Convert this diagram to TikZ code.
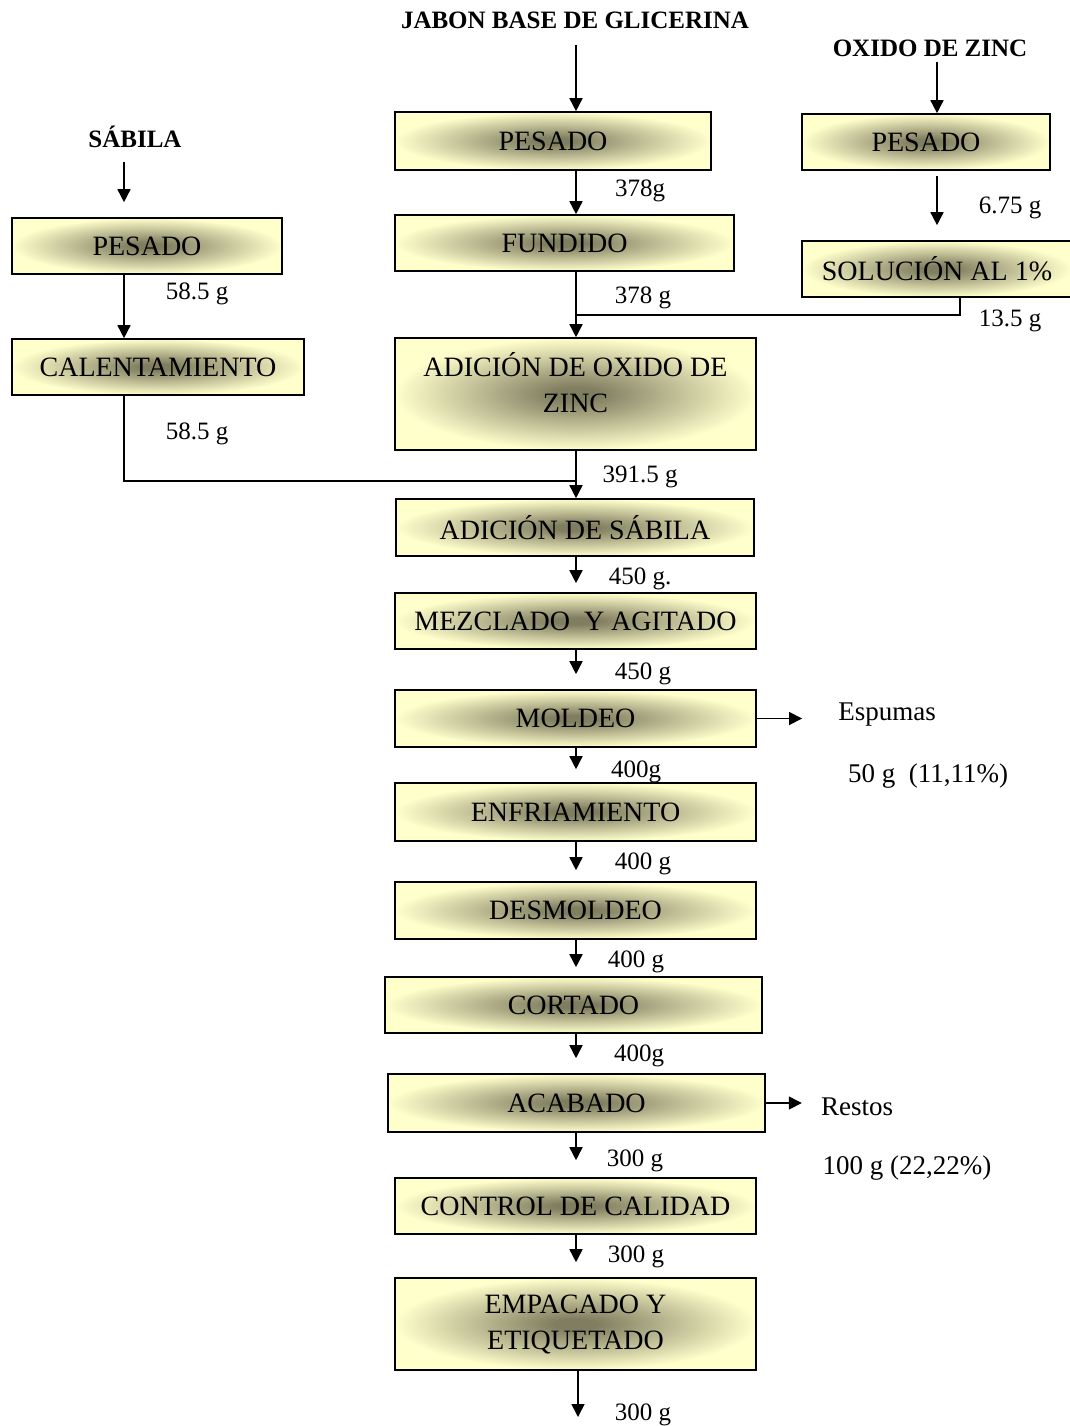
\documentclass[tikz,border=0pt]{standalone}
\usepackage{fontspec}
\setmainfont{Liberation Serif}
\usetikzlibrary{arrows.meta,positioning,calc}
\definecolor{glowlight}{RGB}{255,255,204}
\definecolor{glowdark}{RGB}{128,126,96}
\pgfdeclareradialshading{boxglow}{\pgfpoint{0bp}{0bp}}{%
  color(0bp)=(glowdark); color(3bp)=(glowdark);
  color(25bp)=(glowlight); color(50bp)=(glowlight)}

\begin{document}
\begin{tikzpicture}[x=1pt, y=-1pt,
    stepbox/.style={draw, line width=1.6pt, shading=boxglow, inner sep=0pt,
      align=center, font=\fontsize{28}{36}\selectfont},
    ttl/.style={inner sep=0pt, font=\fontsize{25}{30}\selectfont\bfseries},
    wt/.style={inner sep=0pt, yshift=-3pt, font=\fontsize{25}{30}\selectfont},
    side/.style={inner sep=0pt, yshift=-3pt, font=\fontsize{27}{32}\selectfont},
    flow/.style={line width=1.6pt, -{Triangle[width=13pt,length=13pt]}},
    joinline/.style={line width=1.3pt}]
    \useasboundingbox (0,0) rectangle (1069,1426);

    % axes of the three columns
    \coordinate (axis) at (576,0);
    \coordinate (axL) at (124,0);
    \coordinate (axR) at (937,0);
    \coordinate (zn) at (960,315);
    \coordinate (sb) at (124,481);
    \coordinate (fin) at (578,1417);

    % Titles
    \node[ttl] (ttlJ) at (575,20) {JABON BASE DE GLICERINA};
    \node[ttl] (ttlZ) at (930,48) {OXIDO DE ZINC};
    \node[ttl] (ttlS) at (135,137) {SÁBILA};

    % Main column
    \foreach \n/\x/\y/\w/\h/\t in {
        pesJ/553/141/316/58/PESADO,
        fund/564.5/243/339/56/FUNDIDO,
        adsb/575/527.5/358/57/ADICIÓN DE SÁBILA,
        mezc/575.5/621/361/56/MEZCLADO~ Y AGITADO,
        mold/575.5/718.5/361/57/MOLDEO,
        enfr/575.5/812/361/58/ENFRIAMIENTO,
        desm/575.5/910.5/361/57/DESMOLDEO,
        cort/573.5/1005/377/56/CORTADO,
        acab/576.5/1103/377/58/ACABADO,
        ctrl/575.5/1206/361/56/CONTROL DE CALIDAD,
        empa/575.5/1324/361/92/{EMPACADO Y\\ETIQUETADO}} {
        \node[stepbox, minimum width=\w pt, minimum height=\h pt] (\n) at (\x,\y) {\t};
    }
    \node[stepbox, minimum width=361pt, minimum height=112pt, text depth=24pt]
        (adzn) at (575.5,394) {ADICIÓN DE OXIDO DE\\ZINC};

    % Side columns
    \node[stepbox, minimum width=270pt, minimum height=56pt] (pesS) at (147,246) {PESADO};
    \node[stepbox, minimum width=292pt, minimum height=56pt] (cale) at (158,367) {CALENTAMIENTO};
    \node[stepbox, minimum width=248pt, minimum height=56pt] (pesZ) at (926,142) {PESADO};
    \node[stepbox, minimum width=270pt, minimum height=56pt] (solu) at (937,269) {SOLUCIÓN AL 1\%};

    % Main flow
    \draw[flow, shorten <=16pt] (axis |- ttlJ.south) -- (axis |- pesJ.north);
    \foreach \a/\b/\s in {pesJ/fund/0, fund/adzn/0, adzn/adsb/0, adsb/mezc/9,
        mezc/mold/15, mold/enfr/13, enfr/desm/11, desm/cort/9, cort/acab/15,
        acab/ctrl/17, ctrl/empa/15} {
        \draw[flow, shorten >=\s pt] (axis |- \a.south) -- (axis |- \b.north);
    }
    \draw[flow] (empa.south -| fin) -- (fin);

    % Side flows
    \draw[flow, shorten <=14pt, shorten >=15pt] (axL |- ttlS.south) -- (axL |- pesS.north);
    \draw[flow] (axL |- pesS.south) -- (axL |- cale.north);
    \draw[flow, shorten <=5pt] (axR |- ttlZ.south) -- (axR |- pesZ.north);
    \draw[flow, shorten <=5pt, shorten >=15pt] (axR |- pesZ.south) -- (axR |- solu.north);
    \draw[joinline] (solu.south -| zn) |- (axis |- zn);
    \draw[joinline] (cale.south -| sb) |- (axis |- sb);

    % Losses
    \node[side] (espu) at (887,712) {Espumas};
    \node[side] (espw) at (928,773) {50 g~ (11,11\%)};
    \node[side] (rest) at (857,1104) {Restos};
    \node[side] (resw) at (907,1165) {100 g (22,22\%)};
    \draw[flow, shorten >=36pt] (mold.east) -- (mold.east -| espu.west);
    \draw[flow, shorten >=19pt] (acab.east) -- (acab.east -| rest.west);

    % Weights
    \foreach \x/\y/\t [count=\i] in {
        640/188/378g, 643/295/378 g, 640/474/391.5 g, 640/576/450 g.,
        643/671/450 g, 636/769/400g, 643/861/400 g, 636/959/400 g,
        639/1053/400g, 635/1158/300 g, 636/1254/300 g, 643/1412/300 g,
        197/291/58.5 g, 197/431/58.5 g, 1010/205/6.75 g, 1010/318/13.5 g} {
        \node[wt] (w\i) at (\x,\y) {\t};
    }
\end{tikzpicture}
\end{document}
